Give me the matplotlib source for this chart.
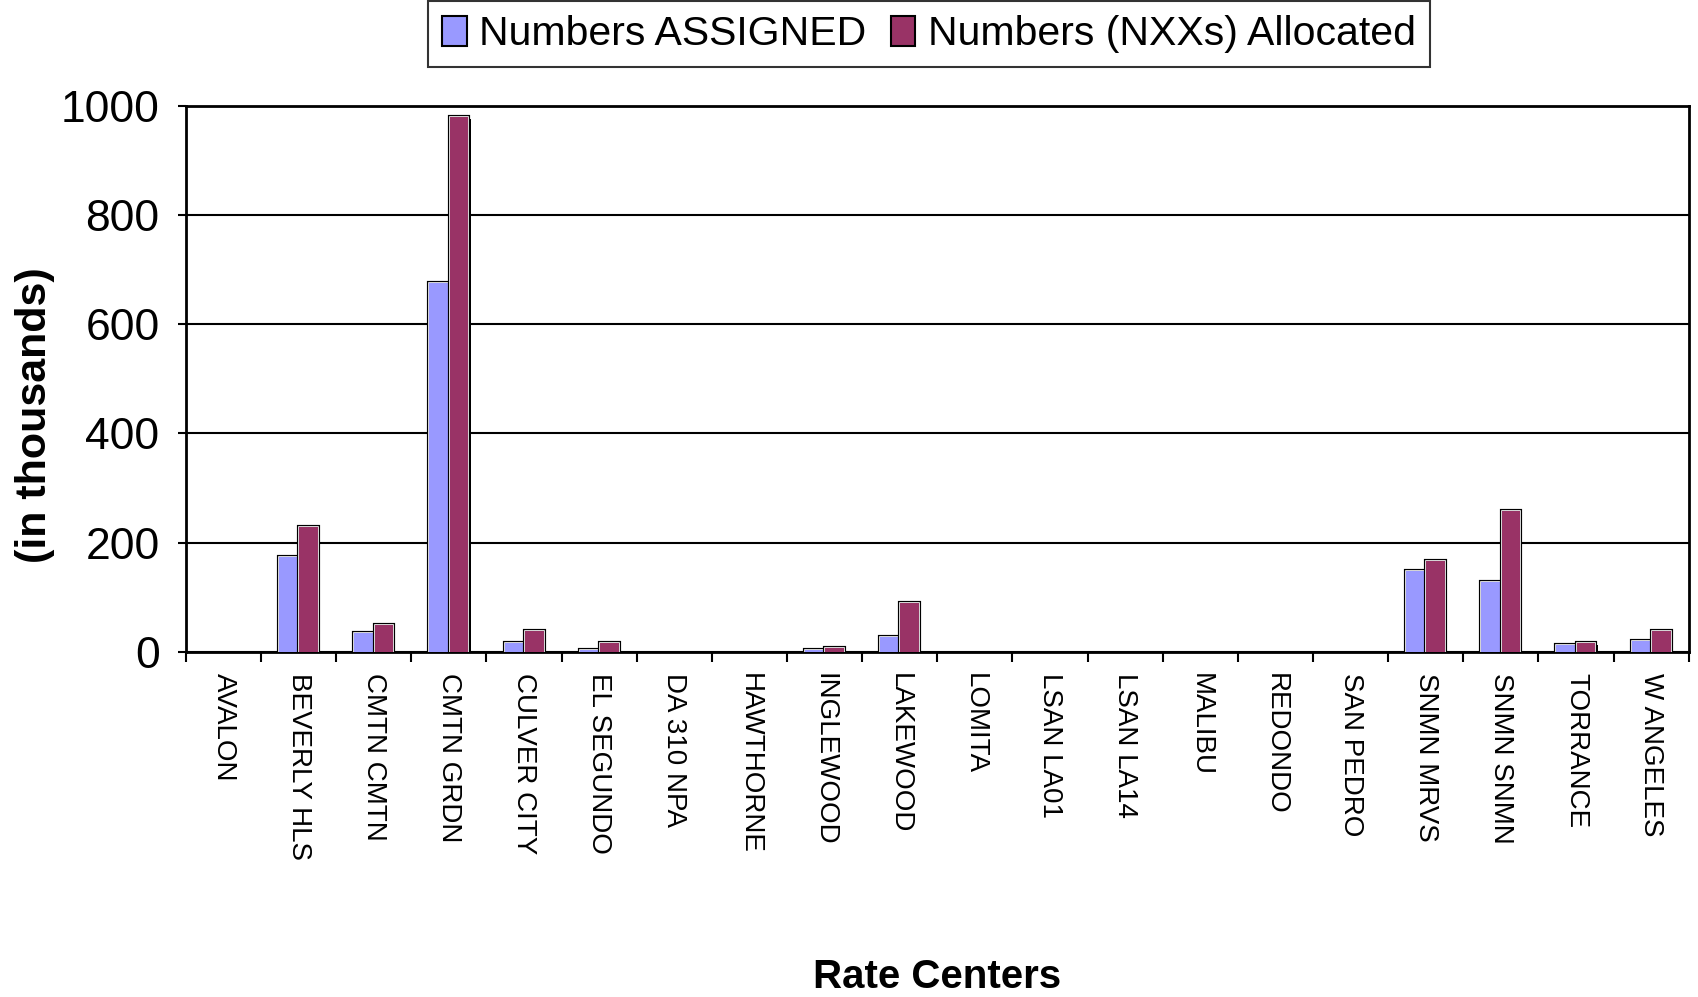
import matplotlib
matplotlib.use("Agg")
import matplotlib.pyplot as plt
import matplotlib.patheffects as pe
import numpy as np

plt.rcParams['font.family'] = ['Liberation Sans', 'DejaVu Sans']

rate_centers = ["AVALON", "BEVERLY HLS", "CMTN CMTN", "CMTN GRDN", "CULVER CITY",
                "EL SEGUNDO", "DA 310 NPA", "HAWTHORNE", "INGLEWOOD", "LAKEWOOD",
                "LOMITA", "LSAN LA01", "LSAN LA14", "MALIBU", "REDONDO",
                "SAN PEDRO", "SNMN MRVS", "SNMN SNMN", "TORRANCE", "W ANGELES"]
assigned = [0, 174, 34, 675, 16, 3, 0, 0, 3, 27,
            0, 0, 0, 0, 0, 0, 148, 129, 12, 20]
allocated = [0, 228, 49, 979, 38, 16, 0, 0, 8, 89,
             0, 0, 0, 0, 0, 0, 166, 258, 16, 38]
y_ticks = [0, 200, 400, 600, 800, 1000]

color_assigned = "#9999FF"
color_allocated = "#993366"

fig = plt.figure(figsize=(16.98, 9.97), dpi=100)
ax = fig.add_axes([0.1095, 0.346, 0.885, 0.548])

x = np.arange(len(rate_centers)) + 0.5
width = 0.25
bar_effects = [pe.SimplePatchShadow(offset=(1.5, -1.5), shadow_rgbFace='black', alpha=1.0),
               pe.Stroke(linewidth=3.0, foreground='black'),
               pe.Stroke(linewidth=1.2, foreground='white'),
               pe.Normal()]

b1 = ax.bar(x - 0.135, assigned, width, color=color_assigned, edgecolor='none',
            label="Numbers ASSIGNED", zorder=3)
b2 = ax.bar(x + 0.135, allocated, width, color=color_allocated, edgecolor='none',
            label="Numbers (NXXs) Allocated", zorder=3)
for bars in (b1, b2):
    for patch, h in zip(bars, bars.datavalues):
        if h > 0:
            patch.set_path_effects(bar_effects)

ax.set_xlim(0, len(rate_centers))
ax.set_ylim(0, 1000)
ax.set_yticks(y_ticks)
ax.set_yticklabels([str(v) for v in y_ticks], fontsize=32)
ax.yaxis.grid(True, color='black', linewidth=1.5, zorder=1)
ax.set_axisbelow(True)

ax.set_xticks(np.arange(len(rate_centers) + 1))
ax.set_xticklabels([])
ax.set_xticks(x, minor=True)
ax.set_xticklabels(rate_centers, minor=True, rotation=-90, fontsize=20,
                   va='top', ha='center')
ax.tick_params(axis='x', which='minor', length=0, pad=15)
ax.tick_params(axis='x', which='major', length=7, width=1.5, direction='out')
ax.tick_params(axis='y', length=6, width=1.5, direction='out', pad=13)

for s in ax.spines.values():
    s.set_linewidth(2)
    s.set_color('black')

ax.set_ylabel("(in thousands)", fontsize=31, fontweight='bold')
ax.yaxis.set_label_coords(-0.087, 0.434)
fig.text(0.552, 0.02, "Rate Centers", fontsize=29, fontweight='bold',
         ha='center', va='center')

leg = fig.legend(handles=[b1, b2], loc='center', bbox_to_anchor=(0.547, 0.966),
                 ncol=2, fontsize=29.5, frameon=True, fancybox=False,
                 handlelength=0.6, handleheight=0.75, handletextpad=0.3,
                 columnspacing=0.6, borderpad=0.35, borderaxespad=0)
leg.get_frame().set_edgecolor('black')
leg.get_frame().set_linewidth(1.5)
for h in leg.legend_handles:
    h.set_edgecolor('black')
    h.set_linewidth(1.5)

fig.savefig("out.png", dpi=100)
